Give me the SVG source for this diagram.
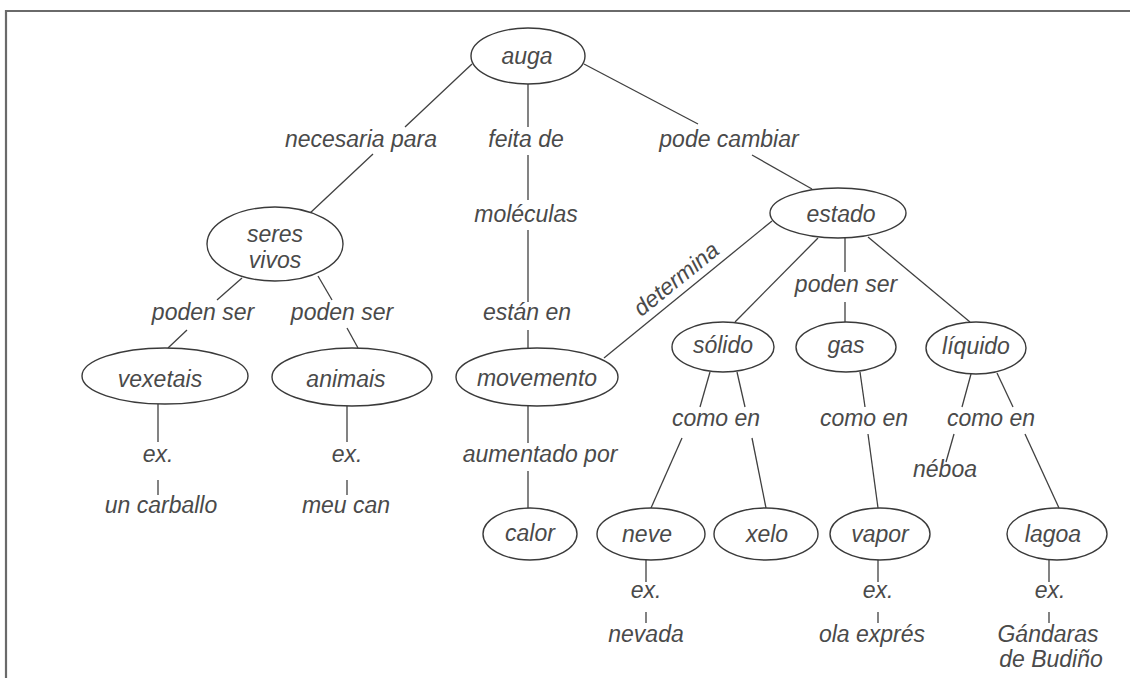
<svg xmlns="http://www.w3.org/2000/svg" width="1130" height="678" viewBox="0 0 1130 678">
<style>
.bg{fill:#ffffff}
.frame{stroke:#6a6a6a;stroke-width:2.2;fill:none}
.node ellipse{fill:#ffffff;stroke:#3a3a3a;stroke-width:1.4}
.edges line{stroke:#404040;stroke-width:1.3;fill:none}
text{font-family:"Liberation Sans",Arial,sans-serif;font-style:italic;font-size:23px;fill:#4a4a4a;text-anchor:middle}
</style>
<rect class="bg" x="0" y="0" width="1130" height="678"/>
<path class="frame" d="M6,678 V11 H1130"/>

<g id="connectors" class="edges">
  <line x1="472" y1="64" x2="405" y2="127"/>
  <line x1="373" y1="154" x2="309" y2="214"/>
  <line x1="528" y1="84" x2="528" y2="127"/>
  <line x1="528" y1="155" x2="528" y2="200"/>
  <line x1="528" y1="230" x2="528" y2="302"/>
  <line x1="528" y1="330" x2="528" y2="348"/>
  <line x1="584" y1="64" x2="698" y2="124"/>
  <line x1="752" y1="155" x2="812" y2="189"/>
  <line x1="242" y1="278" x2="217" y2="300"/>
  <line x1="187" y1="330" x2="168" y2="348"/>
  <line x1="318" y1="276" x2="332" y2="300"/>
  <line x1="347" y1="328" x2="358" y2="348"/>
  <line x1="158" y1="404" x2="158" y2="442"/>
  <line x1="158" y1="480" x2="158" y2="495"/>
  <line x1="347" y1="406" x2="347" y2="442"/>
  <line x1="347" y1="480" x2="347" y2="495"/>
  <line x1="772" y1="221" x2="604" y2="358"/>
  <line x1="818" y1="238" x2="735" y2="322"/>
  <line x1="845" y1="238" x2="845" y2="272"/>
  <line x1="845" y1="302" x2="845" y2="322"/>
  <line x1="868" y1="237" x2="970" y2="322"/>
  <line x1="528" y1="406" x2="528" y2="443"/>
  <line x1="528" y1="471" x2="528" y2="508"/>
  <line x1="710" y1="372" x2="700" y2="407"/>
  <line x1="737" y1="372" x2="745" y2="407"/>
  <line x1="682" y1="438" x2="651" y2="508"/>
  <line x1="752" y1="438" x2="766" y2="508"/>
  <line x1="860" y1="372" x2="865" y2="407"/>
  <line x1="868" y1="434" x2="878" y2="508"/>
  <line x1="971" y1="374" x2="962" y2="407"/>
  <line x1="997" y1="373" x2="1013" y2="407"/>
  <line x1="954" y1="434" x2="946" y2="462"/>
  <line x1="1025" y1="434" x2="1059" y2="508"/>
  <line x1="646" y1="560" x2="646" y2="582"/>
  <line x1="646" y1="612" x2="646" y2="623"/>
  <line x1="878" y1="560" x2="878" y2="582"/>
  <line x1="878" y1="612" x2="878" y2="623"/>
  <line x1="1049" y1="560" x2="1049" y2="582"/>
  <line x1="1049" y1="612" x2="1049" y2="623"/>
</g>

<g id="labels">
  <text x="361" y="147">necesaria para</text>
  <text x="526" y="147">feita de</text>
  <text x="729" y="147">pode cambiar</text>
  <text x="526" y="222">moléculas</text>
  <text transform="translate(681,285) rotate(-39)">determina</text>
  <text x="846" y="292">poden ser</text>
  <text x="203" y="320">poden ser</text>
  <text x="342" y="320">poden ser</text>
  <text x="527" y="320">están en</text>
  <text x="716" y="426">como en</text>
  <text x="864" y="426">como en</text>
  <text x="991" y="426">como en</text>
  <text x="158" y="462">ex.</text>
  <text x="347" y="462">ex.</text>
  <text x="540" y="462">aumentado por</text>
  <text x="945" y="477">néboa</text>
  <text x="161" y="513">un carballo</text>
  <text x="346" y="513">meu can</text>
  <text x="646" y="598">ex.</text>
  <text x="878" y="598">ex.</text>
  <text x="1050" y="598">ex.</text>
  <text x="646" y="642">nevada</text>
  <text x="872" y="642">ola exprés</text>
  <text x="1048" y="642">Gándaras</text>
  <text x="1051" y="667">de Budiño</text>
</g>

<g id="auga" class="node"><ellipse cx="528" cy="56" rx="57" ry="28"/><text x="527" y="64">auga</text></g>
<g id="estado" class="node"><ellipse cx="838" cy="213" rx="68" ry="25"/><text x="841" y="222">estado</text></g>
<g id="seres-vivos" class="node"><ellipse cx="275" cy="244" rx="68" ry="37"/><text x="275" y="242">seres</text><text x="275" y="268">vivos</text></g>
<g id="vexetais" class="node"><ellipse cx="165" cy="376" rx="83" ry="28"/><text x="160" y="387">vexetais</text></g>
<g id="animais" class="node"><ellipse cx="352" cy="377" rx="80" ry="29"/><text x="346" y="387">animais</text></g>
<g id="movemento" class="node"><ellipse cx="537" cy="377" rx="81" ry="29"/><text x="537" y="386">movemento</text></g>
<g id="solido" class="node"><ellipse cx="723" cy="347" rx="51" ry="25"/><text x="723" y="353">sólido</text></g>
<g id="gas" class="node"><ellipse cx="846" cy="347" rx="50" ry="25"/><text x="846" y="353">gas</text></g>
<g id="liquido" class="node"><ellipse cx="976" cy="348" rx="50" ry="26"/><text x="976" y="354">líquido</text></g>
<g id="calor" class="node"><ellipse cx="530" cy="534" rx="47" ry="26"/><text x="530" y="541">calor</text></g>
<g id="neve" class="node"><ellipse cx="651" cy="534" rx="54" ry="26"/><text x="647" y="542">neve</text></g>
<g id="xelo" class="node"><ellipse cx="766" cy="534" rx="52" ry="26"/><text x="767" y="542">xelo</text></g>
<g id="vapor" class="node"><ellipse cx="880" cy="534" rx="50" ry="26"/><text x="880" y="542">vapor</text></g>
<g id="lagoa" class="node"><ellipse cx="1057" cy="534" rx="50" ry="26"/><text x="1053" y="542">lagoa</text></g>
</svg>
